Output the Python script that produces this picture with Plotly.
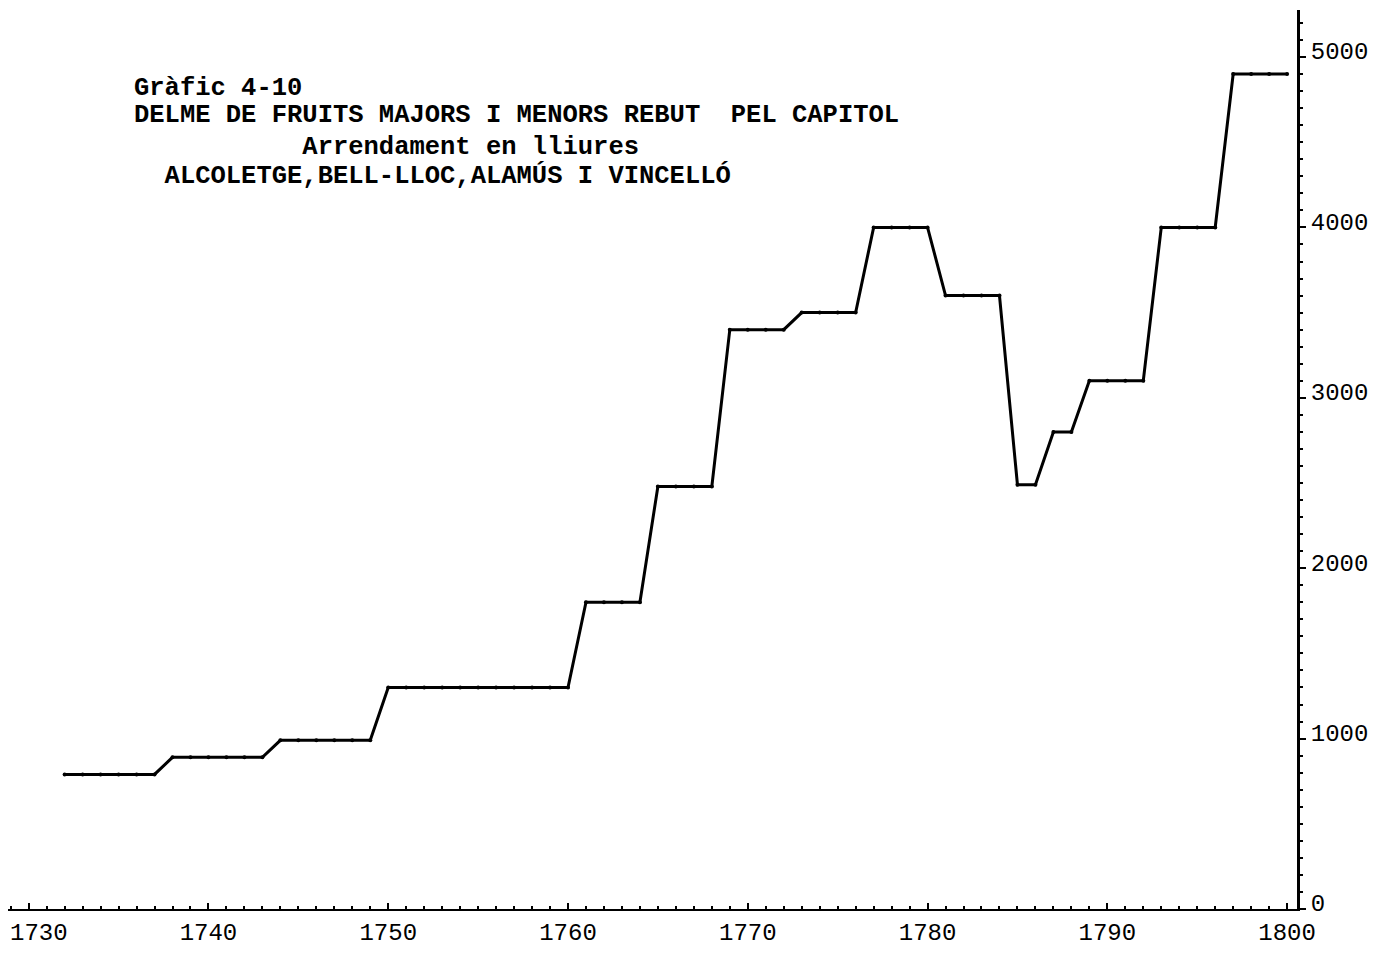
import plotly.graph_objects as go

# Arrendament anual del delme (lliures), llegit del gràfic
anys = list(range(1732, 1801))
valors = (
    [790] * 6        # 1732-1737
    + [890] * 6      # 1738-1743
    + [990] * 6      # 1744-1749
    + [1300] * 11    # 1750-1760
    + [1800] * 4     # 1761-1764
    + [2480] * 4     # 1765-1768
    + [3400] * 4     # 1769-1772
    + [3500] * 4     # 1773-1776
    + [4000] * 4     # 1777-1780
    + [3600] * 4     # 1781-1784
    + [2490] * 2     # 1785-1786
    + [2800] * 2     # 1787-1788
    + [3100] * 4     # 1789-1792
    + [4000] * 4     # 1793-1796
    + [4900] * 4     # 1797-1800
)

x_ticks = [1730, 1740, 1750, 1760, 1770, 1780, 1790, 1800]
# 1730 cau a la vora: l'escrivim a part com a anotació
x_labels = ["", "1740", "1750", "1760", "1770", "1780", "1790", "1800"]
y_ticks = [0, 1000, 2000, 3000, 4000, 5000]

titol = [
    "Gràfic 4-10",
    "DELME DE FRUITS MAJORS I MENORS REBUT\u00a0\u00a0PEL CAPITOL",
    "\u00a0" * 11 + "Arrendament en lliures",
    "\u00a0\u00a0ALCOLETGE,BELL-LLOC,ALAMÚS I VINCELLÓ",
]
titol_y = [88, 116, 147, 176]   # centre de cada línia (px de pantalla)

FONT = "Liberation Mono"

fig = go.Figure()
fig.add_trace(go.Scatter(
    x=anys, y=valors,
    mode="lines+markers",
    line=dict(color="black", width=3),
    marker=dict(color="black", size=4),
    showlegend=False,
))

# el body de la pàgina té 8px de marge: el compensem aquí
fig.update_layout(
    width=1400, height=955,
    paper_bgcolor="white", plot_bgcolor="white",
    margin=dict(l=0, r=111, t=2, b=54, autoexpand=False),
    font=dict(family=FONT, color="black", size=24),
    xaxis=dict(
        range=[1728.85, 1800.55],
        tickvals=x_ticks, ticktext=x_labels,
        ticks="inside", ticklen=6, tickwidth=2, tickcolor="black",
        minor=dict(dtick=1, ticks="inside", ticklen=3, tickcolor="black"),
        showgrid=False, zeroline=False,
        showline=True, linecolor="black", linewidth=2,
        ticklabeloverflow="allow",
        tickfont=dict(family=FONT, size=24),
    ),
    yaxis=dict(
        range=[0, 5276],
        side="right",
        tickvals=y_ticks,
        ticks="outside", ticklen=6, tickwidth=2, tickcolor="black",
        minor=dict(dtick=100, ticks="outside", ticklen=3, tickcolor="black"),
        showgrid=False, zeroline=False,
        showline=True, linecolor="black", linewidth=3,
        ticklabelshift=-6,
        tickfont=dict(family=FONT, size=24),
    ),
)

fig.add_annotation(
    text="1730", x=x_ticks[0], xref="x", y=0, yref="paper",
    xanchor="center", yanchor="top", yshift=-9, xshift=10,
    showarrow=False, font=dict(family=FONT, size=24, color="black"),
)

for txt, yy in zip(titol, titol_y):
    fig.add_annotation(
        text=txt, xref="paper", yref="paper",
        x=(132 - 8) / 1289, y=(909 - yy) / 899,
        xanchor="left", yanchor="middle", showarrow=False,
        font=dict(family=FONT, size=25.5, color="black", weight="bold"),
    )

fig.write_html("out.html")
